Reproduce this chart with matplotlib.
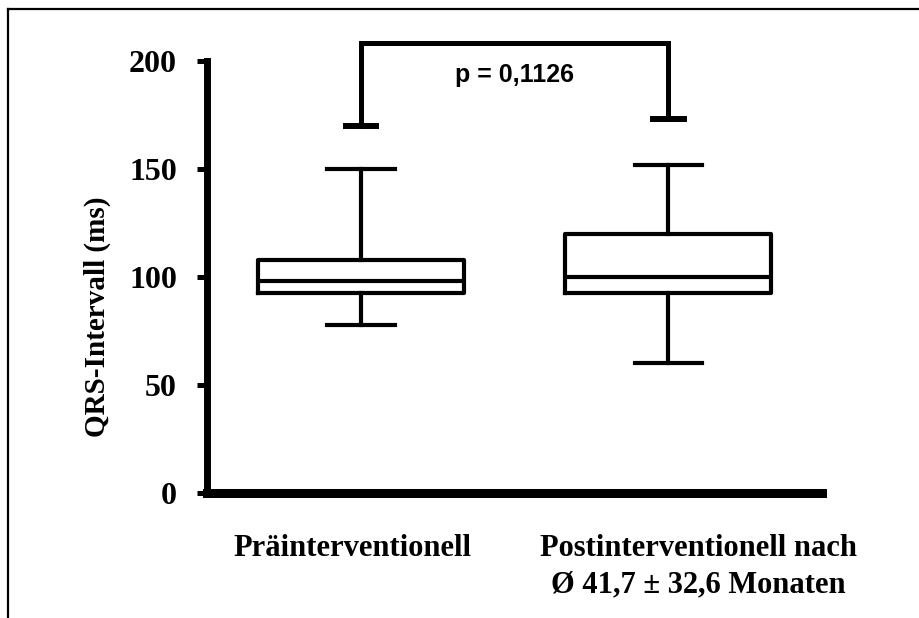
import matplotlib.pyplot as plt
from matplotlib.lines import Line2D

# QRS interval before and after the intervention (ms)
groups = ["Präinterventionell", "Postinterventionell nach\nØ 41,7 ± 32,6 Monaten"]
positions = [1, 2]
whisker_low = [78, 60]
q1 = [92.5, 92.5]
median = [98, 100]
q3 = [108, 120]
whisker_high = [150, 152]

# significance bracket between the groups
bracket_ends = [170, 173]
bracket_top = 208.5
p_label = "p = 0,1126"

y_ticks = [0, 50, 100, 150, 200]

serif = "Liberation Serif"

fig = plt.figure(figsize=(9.2, 6.18), dpi=100)
ax = fig.add_axes([207.5 / 920, 125 / 618, 614.5 / 920, 432 / 618])

stats = []
for i in range(len(groups)):
    stats.append({
        "whislo": whisker_low[i],
        "q1": q1[i],
        "med": median[i],
        "q3": q3[i],
        "whishi": whisker_high[i],
        "fliers": [],
    })

line = {"color": "black", "linewidth": 3.0}
ax.bxp(stats, positions=positions, widths=0.67, capwidths=0.22,
       showfliers=False, patch_artist=False,
       boxprops=line, medianprops=line, whiskerprops=line, capprops=line)

# bracket with short caps at the ends
x1, x2 = positions
ax.plot([x1, x1, x2, x2], [bracket_ends[0], bracket_top, bracket_top, bracket_ends[1]],
        color="black", lw=3.6, solid_joinstyle="miter", clip_on=False)
for x, y in zip(positions, bracket_ends):
    ax.plot([x - 0.05, x + 0.05], [y, y], color="black", lw=4.3, clip_on=False)
ax.text((x1 + x2) / 2, 193.5, p_label, ha="center", va="center",
        fontsize=18, fontweight="bold", family="Liberation Sans")

ax.set_xlim(0.5, 2.5)
ax.set_ylim(0, 200)
for side in ("top", "right"):
    ax.spines[side].set_visible(False)
ax.spines["left"].set_linewidth(5.0)
ax.spines["bottom"].set_linewidth(6.5)

ax.set_yticks(y_ticks)
ax.set_yticklabels([str(t) for t in y_ticks], fontsize=23, fontweight="bold",
                   family=serif)
ax.tick_params(axis="y", length=7, width=3.6, pad=15)
ax.set_xticks([])

# group labels below the axis
offsets = [-9, 30]
for pos, name, dx in zip(positions, groups, offsets):
    ax.annotate(name, xy=(pos, 0), xycoords="data", xytext=(dx, -41),
                textcoords="offset pixels", ha="center", va="top",
                multialignment="center", linespacing=1.35,
                fontsize=22, fontweight="bold", family=serif,
                annotation_clip=False)

fig.text(97 / 920, 1 - 317 / 618, "QRS-Intervall (ms)", rotation=90,
         ha="center", va="center", fontsize=21, fontweight="bold", family=serif)

# frame lines along the top and left edges
fig.add_artist(Line2D([8 / 920, 1.0], [1 - 9 / 618, 1 - 9 / 618],
                      transform=fig.transFigure, color="black", lw=1.6))
fig.add_artist(Line2D([8 / 920, 8 / 920], [0.0, 1 - 9 / 618],
                      transform=fig.transFigure, color="black", lw=1.6))

fig.savefig("out.png", dpi=100)
